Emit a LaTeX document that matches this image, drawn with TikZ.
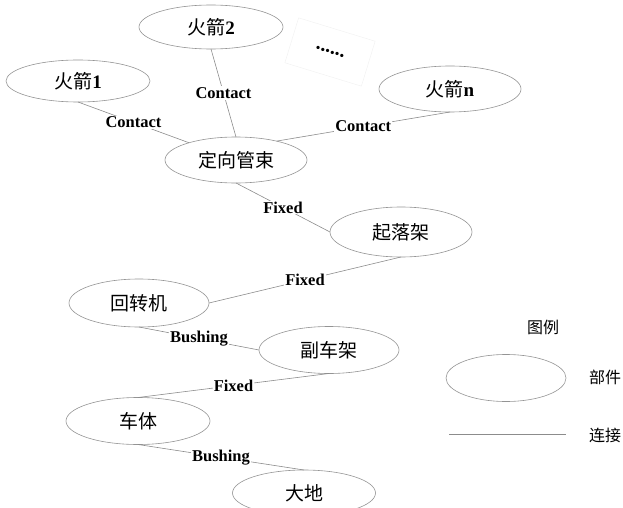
\documentclass[tikz,border=0pt]{standalone}
\usepackage{fontspec}
\setmainfont{Liberation Serif}
\newfontfamily\cjk{Noto Sans CJK SC}
\usetikzlibrary{shapes.geometric}
\begin{document}
\begin{tikzpicture}[x=1pt,y=-1pt,
  part/.style={ellipse,draw=black!42,line width=0.6pt,inner sep=0pt,outer sep=0pt,
    font=\fontsize{19}{21}\selectfont},
  link/.style={draw=black!45,line width=0.6pt},
  lbl/.style={fill=white,inner sep=1pt,font=\fontsize{16.5}{18}\selectfont\bfseries},
  legtext/.style={font=\fontsize{16}{18}\selectfont\cjk}]
\useasboundingbox (0,0) rectangle (623,508);
\node[part,minimum width=144pt,minimum height=42pt] (r1) at (78,81) {{\cjk 火箭}\textbf{1}};
\node[part,minimum width=144pt,minimum height=44pt] (r2) at (211,27) {{\cjk 火箭}\textbf{2}};
\node[part,minimum width=142pt,minimum height=46pt] (dx) at (236,160) {\cjk 定向管束};
\node[part,minimum width=142pt,minimum height=46pt] (rn) at (450,89) {{\cjk 火箭}\textbf{n}};
\node[part,minimum width=142pt,minimum height=50pt] (qlj) at (401,232) {\cjk 起落架};
\node[part,minimum width=140pt,minimum height=48pt] (hzj) at (139,303) {\cjk 回转机};
\node[part,minimum width=140pt,minimum height=47pt] (fcj) at (329,350) {\cjk 副车架};
\node[part,minimum width=144pt,minimum height=47pt] (ct) at (138,421) {\cjk 车体};
\node[part,minimum width=143pt,minimum height=46pt] (dd) at (304,493) {\cjk 大地};
\node[draw=black!5,line width=0.5pt,minimum width=80pt,minimum height=47pt,rotate=-17,
  font=\fontsize{20}{22}\selectfont\bfseries] (dots) at (330,52) {......};
% connectors
\draw[link] (r1.south) -- node[lbl] {Contact} (dx);
\draw[link] (r2.south) -- node[lbl] {Contact} (dx.north);
\draw[link] (rn.south) -- node[lbl] {Contact} (dx.25);
\draw[link] (dx.south) -- node[lbl] {Fixed} (qlj.west);
\draw[link] (qlj.south) -- node[lbl] {Fixed} (hzj.east);
\draw[link] (hzj.south) -- node[lbl] {Bushing} (fcj.west);
\draw[link] (fcj.south) -- node[lbl] {Fixed} (ct.north);
\draw[link] (ct.south) -- node[lbl] {Bushing} (dd.north);
% legend
\node[legtext] (legt) at (543,327) {图例};
\node[part,minimum width=120pt,minimum height=47pt] (lege) at (506,378) {};
\node[legtext] (legp) at (605,377) {部件};
\coordinate (la) at (449,434);
\coordinate (lb) at (566,434);
\draw[link] (la) -- (lb);
\node[legtext] (legc) at (605,435) {连接};
\end{tikzpicture}
\end{document}
